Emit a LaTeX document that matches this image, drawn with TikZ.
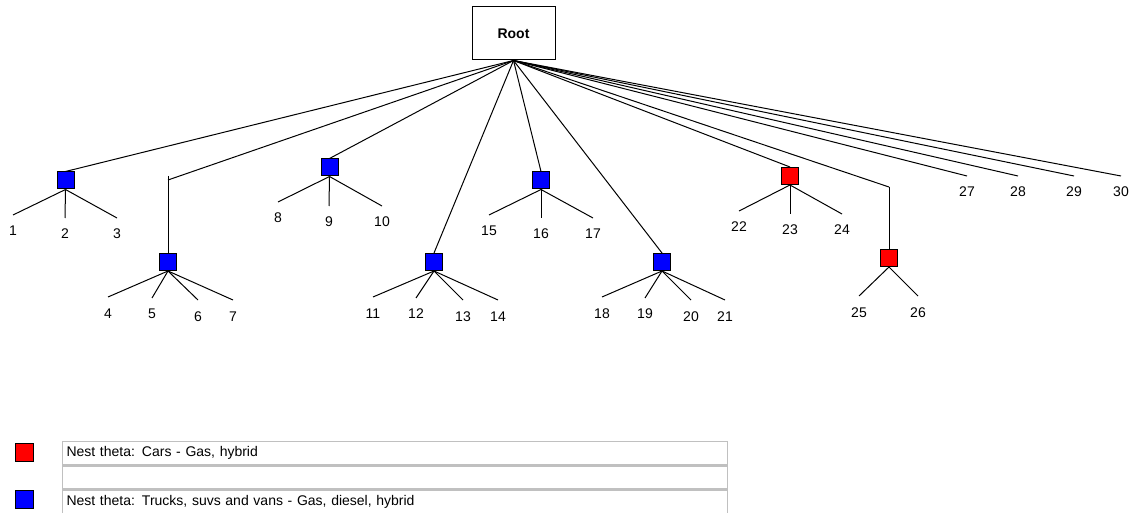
\documentclass[tikz,border=0pt]{standalone}
\usepackage{fontspec}
\setmainfont{Liberation Sans}
\usepackage{tikz}
\usetikzlibrary{positioning}

\definecolor{nestred}{RGB}{255,0,0}
\definecolor{nestblue}{RGB}{0,0,255}
\definecolor{cellgray}{RGB}{192,192,192}

\begin{document}
\begin{tikzpicture}[-,x=1pt,y=-1pt,line width=1pt,
                    font=\fontsize{14}{16}\selectfont,
                    root/.style={draw,minimum width=83pt,minimum height=53pt,font=\fontsize{14}{16}\selectfont\bfseries},
                    nest/.style={draw,inner sep=0pt,minimum size=17pt},
                    leaf/.style={inner sep=0pt,outer ysep=11pt,text height=10pt,text depth=0pt},
                    cell/.style={draw=cellgray,line width=1.5pt,minimum height=23pt,inner xsep=4pt,text width=657pt,align=left}]

	\useasboundingbox (0,0) rectangle (1133,513);

  	\node[root] (R) at (513.5,33.5)			{Root};

  	\node[nest,fill=nestblue] (A) at (65.5,180.5)	{};
  	\node[nest,fill=nestblue] (B) at (168,262)	{};
  	\node[nest,fill=nestblue] (C) at (329.5,167.5)	{};
  	\node[nest,fill=nestblue] (D) at (434,262)	{};
  	\node[nest,fill=nestblue] (E) at (541,180.5)	{};
  	\node[nest,fill=nestblue] (F) at (662,262)	{};
  	\node[nest,fill=nestred] (G) at (790,176)	{};
  	\node[nest,fill=nestred] (H) at (889,258)	{};

	\coordinate (Bt) at (168,176);
	\coordinate (Bb) at (168,180);
	\coordinate (Hb) at (889,187);

  	\node[leaf] (L1) at (13,231)	{1};
  	\node[leaf] (L2) at (65,234)	{2};
  	\node[leaf] (L3) at (117,234)	{3};
  	\node[leaf] (L4) at (108,313)	{4};
  	\node[leaf] (L5) at (152,314)	{5};
  	\node[leaf] (L6) at (198,316)	{6};
  	\node[leaf] (L7) at (233,316)	{7};
  	\node[leaf] (L8) at (278,218)	{8};
  	\node[leaf] (L9) at (329,222)	{9};
  	\node[leaf] (L10) at (382,222)	{10};
  	\node[leaf] (L11) at (373,313)	{11};
  	\node[leaf] (L12) at (416,314)	{12};
  	\node[leaf] (L13) at (463,316)	{13};
  	\node[leaf] (L14) at (498,316)	{14};
  	\node[leaf] (L15) at (489,231)	{15};
  	\node[leaf] (L16) at (541,234)	{16};
  	\node[leaf] (L17) at (593,234)	{17};
  	\node[leaf] (L18) at (602,313)	{18};
  	\node[leaf] (L19) at (645,314)	{19};
  	\node[leaf] (L20) at (691,316)	{20};
  	\node[leaf] (L21) at (725,316)	{21};
  	\node[leaf] (L22) at (739,227)	{22};
  	\node[leaf] (L23) at (790,230)	{23};
  	\node[leaf] (L24) at (842,230)	{24};
  	\node[leaf] (L25) at (859,312)	{25};
  	\node[leaf] (L26) at (918,312)	{26};
  	\node[leaf] (L27) at (967,192)	{27};
  	\node[leaf] (L28) at (1018,192)	{28};
  	\node[leaf] (L29) at (1074,192)	{29};
  	\node[leaf] (L30) at (1121,192)	{30};

	\path (R.south) edge (A.north);
	\path (R.south) edge (Bb);
	\path (Bt) edge (B.north);
	\path (R.south) edge (C.north);
	\path (R.south) edge (D.north);
	\path (R.south) edge (E.north);
	\path (R.south) edge (F.north);
	\path (R.south) edge (G.north);
	\path (R.south) edge (Hb);
	\path (Hb) edge (H.north);
	\path (R.south) edge (L27.north);
	\path (R.south) edge (L28.north);
	\path (R.south) edge (L29.north);
	\path (R.south) edge (L30.north);

	\path (A.south) edge (L1.north) edge (L2.north) edge (L3.north);
	\path (B.south) edge (L4.north) edge (L5.north) edge (L6.north) edge (L7.north);
	\path (C.south) edge (L8.north) edge (L9.north) edge (L10.north);
	\path (D.south) edge (L11.north) edge (L12.north) edge (L13.north) edge (L14.north);
	\path (E.south) edge (L15.north) edge (L16.north) edge (L17.north);
	\path (F.south) edge (L18.north) edge (L19.north) edge (L20.north) edge (L21.north);
	\path (G.south) edge (L22.north) edge (L23.north) edge (L24.north);
	\path (H.south) edge (L25.north) edge (L26.north);

	% legend
  	\node[nest,minimum size=18pt,fill=nestred] (KR) at (24,452)	{};
  	\node[nest,minimum size=18pt,fill=nestblue] (KB) at (24,499)	{};
  	\node[cell] (T1) at (395,453)	{Nest theta: Cars - Gas, hybrid};
  	\node[cell] (T2) at (395,477.5)	{};
  	\node[cell] (T3) at (395,502)	{Nest theta: Trucks, suvs and vans - Gas, diesel, hybrid};

\end{tikzpicture}
\end{document}
